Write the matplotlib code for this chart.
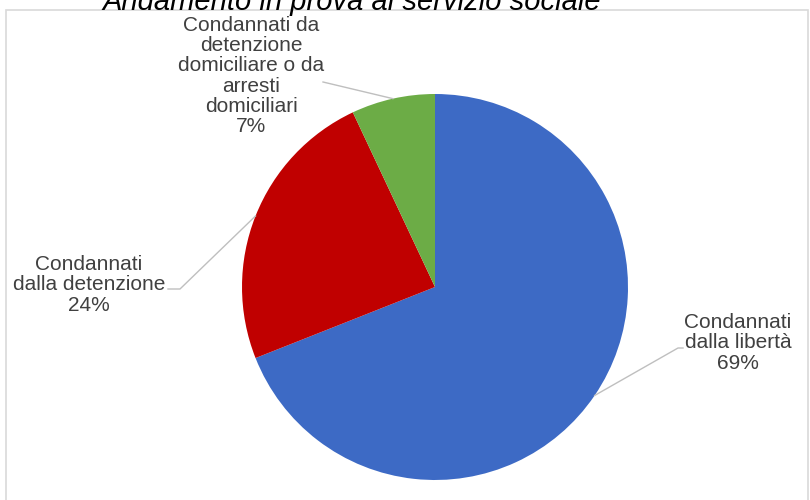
import numpy as np
import matplotlib
matplotlib.use("Agg")
import matplotlib.pyplot as plt
from matplotlib.patches import Rectangle

plt.rcParams["font.family"] = ["Liberation Sans", "DejaVu Sans"]

# data
categories = ["Condannati\ndalla libertà",
              "Condannati\ndalla detenzione",
              "Condannati da\ndetenzione\ndomiciliare o da\narresti\ndomiciliari"]
values = [69, 24, 7]
colors = ["#3D6AC5", "#C00000", "#6CAC46"]
title = "Andamento in prova al servizio sociale"

W, H = 810, 500
fig = plt.figure(figsize=(W / 100, H / 100), dpi=100)
ax = fig.add_axes([0, 0, 1, 1])

cx, cy, r = 435, H - 287, 193
ax.pie(values, colors=colors, startangle=90, counterclock=False,
       center=(cx, cy), radius=r, frame=True,
       wedgeprops=dict(linewidth=0))
ax.set_xlim(0, W)
ax.set_ylim(0, H)
ax.set_aspect("equal")
ax.axis("off")

# chart border
ax.add_patch(Rectangle((6, -10), 802, H - 10 + 10, fill=False,
                       edgecolor="#D9D9D9", linewidth=1.2))

# label centre, elbow of the leader line, end of the short horizontal stub
label_pos = [(738, 343), (89, 285), (251, 76)]
elbows = [(678, 348), (180, 289), (323, 82)]
stubs = [(683, 348), (168, 289), None]

total = sum(values)
start = 90.0
for v, cat, (lx, ly), (ex, ey), stub in zip(values, categories, label_pos, elbows, stubs):
    mid = np.deg2rad(start - 360.0 * v / total / 2)
    start -= 360.0 * v / total
    px, py = cx + r * np.cos(mid), cy + r * np.sin(mid)
    xs, ys = [px, ex], [py, H - ey]
    if stub is not None:
        xs.append(stub[0])
        ys.append(H - stub[1])
    ax.plot(xs, ys, color="#BFBFBF", linewidth=1)
    ax.text(lx, H - ly, f"{cat}\n{v}%", ha="center", va="center",
            fontsize=15, color="#404040", linespacing=1.08)

fig.text(352 / W, 1 - 10 / H, title, ha="center", va="baseline",
         fontsize=21, style="italic", color="#000000")

fig.savefig("out.png", dpi=100)
